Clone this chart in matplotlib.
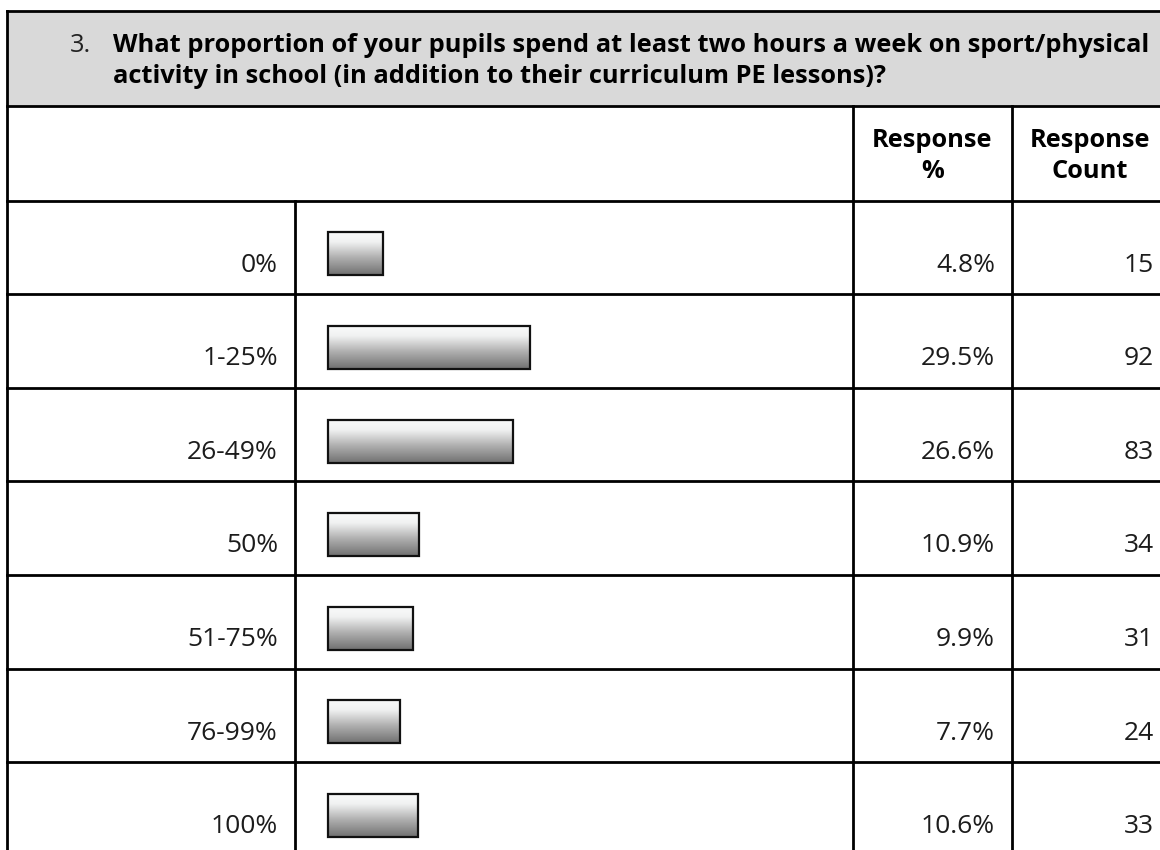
import numpy as np
import matplotlib
matplotlib.use("Agg")
import matplotlib.pyplot as plt
from matplotlib.colors import LinearSegmentedColormap

plt.rcParams['font.family'] = ['Open Sans', 'DejaVu Sans']

# survey data
categories = ["0%", "1-25%", "26-49%", "50%", "51-75%", "76-99%", "100%"]
response_pct = [4.8, 29.5, 26.6, 10.9, 9.9, 7.7, 10.6]
response_count = [15, 92, 83, 34, 31, 24, 33]
question_no = "3."
question = ["What proportion of your pupils spend at least two hours a week on sport/physical",
            "activity in school (in addition to their curriculum PE lessons)?"]
col_heads = [("Response", "%"), ("Response", "Count")]

W, H = 1160, 850
fig = plt.figure(figsize=(W / 100, H / 100), dpi=100)

# background axes in pixel coords for the table frame
ax = fig.add_axes([0, 0, 1, 1])
ax.set_xlim(0, W)
ax.set_ylim(H, 0)
ax.axis('off')

lw = 2.0
left_x, top_y = 7, 11
head_y = 106
body_y = 200.5
row_h = 93.6
div_label = 295
div_pct = 853
div_cnt = 1012
right_x = 1170

ax.add_patch(plt.Rectangle((left_x, top_y), right_x - left_x, head_y - top_y,
                           facecolor='#d9d9d9', edgecolor='none', zorder=0))
ax.plot([left_x, right_x], [top_y, top_y], color='black', lw=lw)
ax.plot([left_x, left_x], [top_y, H + 5], color='black', lw=lw)
ax.plot([left_x, right_x], [head_y, head_y], color='black', lw=lw)
ax.plot([div_pct, div_pct], [head_y, H + 5], color='black', lw=lw)
ax.plot([div_cnt, div_cnt], [head_y, H + 5], color='black', lw=lw)
ax.plot([div_label, div_label], [body_y, H + 5], color='black', lw=lw)
for i in range(len(categories)):
    y = body_y + i * row_h
    ax.plot([left_x, right_x], [y, y], color='black', lw=lw)

# question text
ax.text(70, 52, question_no, fontsize=18.3, color='#222222', va='baseline', ha='left')
ax.text(113, 52, question[0], fontsize=18.3, fontweight='bold', color='black',
        va='baseline', ha='left')
ax.text(113, 83, question[1], fontsize=18.3, fontweight='bold', color='black',
        va='baseline', ha='left')

# column heads
for cx, (l1, l2) in zip([(div_pct + div_cnt) / 2, 1090], col_heads):
    ax.text(cx, 147, l1, fontsize=18.3, fontweight='bold', ha='center', va='baseline')
    ax.text(cx, 178, l2, fontsize=18.3, fontweight='bold', ha='center', va='baseline')

# row texts
for i, (cat, p, n) in enumerate(zip(categories, response_pct, response_count)):
    base = body_y + i * row_h + 71
    ax.text(278, base, cat, fontsize=19, color='#1c1c1c', ha='right', va='baseline')
    ax.text(995, base, f"{p}%", fontsize=19, color='#1c1c1c', ha='right', va='baseline')
    ax.text(1154, base, str(n), fontsize=19, color='#1c1c1c', ha='right', va='baseline')

# bar axes over the bar column
n_rows = len(categories)
bx = fig.add_axes([div_label / W, (H - (body_y + n_rows * row_h)) / H,
                   (div_pct - div_label) / W, n_rows * row_h / H])
bx.axis('off')
k = 5.95          # px per percent
pad = 4.55        # minimum bar length in percent units
x0 = -32.5 / k
x1 = (div_pct - div_label - 32.5) / k

grad_cmap = LinearSegmentedColormap.from_list(
    'bar', [(0, '#fafbfb'), (0.25, '#f0f1f1'), (0.6, '#b0b0b0'), (1, '#707070')])
grad = np.linspace(0, 1, 256).reshape(-1, 1)

ypos = np.arange(n_rows) + 0.57
bars = bx.barh(ypos, np.array(response_pct) + pad, height=0.46, left=0,
               facecolor='none', edgecolor='#111111', linewidth=1.6, zorder=3)
for b in bars:
    bx0, by0 = b.get_x(), b.get_y()
    im = bx.imshow(grad, cmap=grad_cmap, aspect='auto', zorder=2,
                   extent=(bx0, bx0 + b.get_width(), by0 + b.get_height(), by0),
                   interpolation='bilinear')
    im.set_clip_path(b)
bx.set_xlim(x0, x1)
bx.set_ylim(n_rows, 0)

fig.savefig("out.png", dpi=100)
